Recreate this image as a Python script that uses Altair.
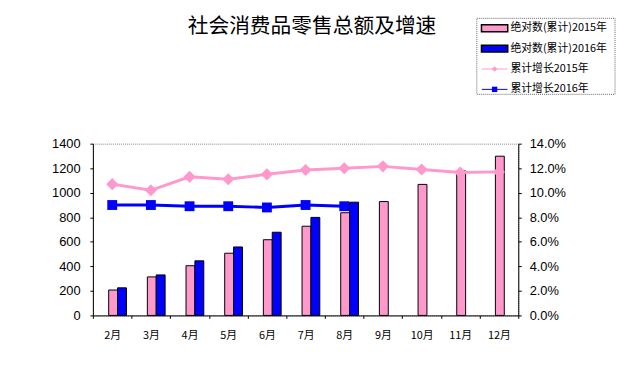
import altair as alt
import pandas as pd

title_text = "社会消费品零售总额及增速"
months = ["2月", "3月", "4月", "5月", "6月", "7月", "8月", "9月", "10月", "11月", "12月"]
abs_2015 = [207, 314, 405, 507, 617, 727, 837, 928, 1068, 1178, 1298]
abs_2016 = [225, 330, 445, 558, 678, 799, 923]
growth_2015 = [10.7, 10.2, 11.3, 11.1, 11.5, 11.85, 12.0, 12.15, 11.9, 11.65, 11.7]
growth_2016 = [9.0, 9.0, 8.9, 8.9, 8.8, 9.0, 8.9]

series_names = ["绝对数(累计)2015年", "绝对数(累计)2016年", "累计增长2015年", "累计增长2016年"]
series_colors = ["#FF99CC", "#0000FF", "#FF99CC", "#0000FF"]
series_kind = ["bar", "bar", "line", "line"]

bars = pd.DataFrame(
    [{"month": m, "year": "2015", "value": v, "series": series_names[0]} for m, v in zip(months, abs_2015)]
    + [{"month": m, "year": "2016", "value": v, "series": series_names[1]} for m, v in zip(months, abs_2016)]
)
lines = pd.DataFrame(
    [{"month": m, "rate": v, "series": series_names[2]} for m, v in zip(months, growth_2015)]
    + [{"month": m, "rate": v, "series": series_names[3]} for m, v in zip(months, growth_2016)]
)
legend_df = pd.DataFrame({"series": series_names, "kind": series_kind})
title_df = pd.DataFrame({"title": [title_text]})

FONT = "Noto Sans CJK SC"
color_scale = alt.Scale(domain=series_names, range=series_colors)
shape_scale = alt.Scale(domain=series_names[2:], range=["diamond", "square"])

x_enc = alt.X("month:N", sort=months, scale=alt.Scale(domain=months, paddingInner=0, paddingOuter=0),
              axis=alt.Axis(title=None, labelAngle=0, labelFont=FONT, labelFontSize=11, labelColor="#000",
                            labelPadding=11, tickBand="extent", tickSize=3, domainColor="#000",
                            tickColor="#000"))

bar_layer = alt.Chart(bars).mark_bar(stroke="#000", strokeWidth=1).encode(
    x=x_enc,
    xOffset=alt.XOffset("year:N", scale=alt.Scale(domain=["2015", "2016"], range=[16, 34], paddingInner=0, paddingOuter=0)),
    y=alt.Y("value:Q", scale=alt.Scale(domain=[0, 1400]),
            axis=alt.Axis(title=None, orient="left", values=list(range(0, 1401, 200)), format="d",
                          labelFont="Liberation Sans", labelFontSize=13, labelColor="#000", labelPadding=10,
                          tickSize=3, grid=False, domainColor="#000", tickColor="#000")),
    color=alt.Color("series:N", scale=color_scale, legend=None),
)

line_base = alt.Chart(lines).encode(
    x=alt.X("month:N", sort=months),
    y=alt.Y("rate:Q", scale=alt.Scale(domain=[0, 14]),
            axis=alt.Axis(title=None, orient="right", values=list(range(0, 15, 2)),
                          labelExpr="format(datum.value, '.1f') + '%'", labelFont="Liberation Sans",
                          labelFontSize=13, labelColor="#000", labelPadding=8, tickSize=3, grid=False,
                          domainColor="#000", tickColor="#000")),
    color=alt.Color("series:N", scale=color_scale, legend=None),
)
line_layer = line_base.mark_line(strokeWidth=3)
point_layer = line_base.mark_point(filled=True, opacity=1).encode(
    shape=alt.Shape("series:N", scale=shape_scale, legend=None),
    size=alt.Size("series:N", scale=alt.Scale(domain=series_names[2:], range=[150, 100]), legend=None),
)
rate_layer = alt.layer(line_layer, point_layer)

# hand-built legend box (top right, outside the plot area)
leg_y = alt.Y("series:N", scale=alt.Scale(type="point", domain=series_names, range=[-117, -55], padding=0), axis=None)
leg_base = alt.Chart(legend_df)
leg_box = leg_base.mark_rect(fill="#fff", stroke="#666", strokeWidth=1, strokeDash=[1, 1]).encode(
    x=alt.value(389), x2=alt.value(529), y=alt.value(-127), y2=alt.value(-50)
).transform_filter("datum.kind === 'bar'").transform_filter(f"datum.series === '{series_names[0]}'")
leg_bars = leg_base.mark_point(shape="M-1.9,-0.5H1.9V0.5H-1.9Z", size=196, filled=True, opacity=1,
                               stroke="#000", strokeWidth=1.5).encode(
    x=alt.value(407), y=leg_y, color=alt.Color("series:N", scale=color_scale, legend=None)
).transform_filter("datum.kind === 'bar'")
leg_rules = leg_base.mark_rule(strokeWidth=1).encode(
    x=alt.value(394), x2=alt.value(420), y=leg_y, color=alt.Color("series:N", scale=color_scale, legend=None)
).transform_filter("datum.kind === 'line'")
leg_marks = leg_base.mark_point(filled=True, opacity=1, size=30).encode(
    x=alt.value(407), y=leg_y, color=alt.Color("series:N", scale=color_scale, legend=None),
    shape=alt.Shape("series:N", scale=shape_scale, legend=None)
).transform_filter("datum.kind === 'line'")
leg_text = leg_base.mark_text(align="left", baseline="middle", font=FONT, fontSize=11, color="#000").encode(
    x=alt.value(423), y=leg_y, text="series:N"
)
title_mark = alt.Chart(title_df).mark_text(align="center", baseline="middle", font=FONT, fontSize=21,
                                           color="#000").encode(
    x=alt.value(222), y=alt.value(-118), text="title:N"
)
legend_layer = alt.layer(leg_box, leg_bars, leg_rules, leg_marks, leg_text, title_mark)

chart = alt.layer(bar_layer, rate_layer, legend_layer).resolve_scale(y="independent").properties(
    width=431, height=174,
    autosize=alt.AutoSizeParams(type="none"),
    padding={"left": 86, "top": 135, "right": 99, "bottom": 65},
).configure_view(stroke="#888", strokeDash=[1, 1], strokeWidth=1)

chart.save("out.html", embed_options={"renderer": "svg", "actions": False})
